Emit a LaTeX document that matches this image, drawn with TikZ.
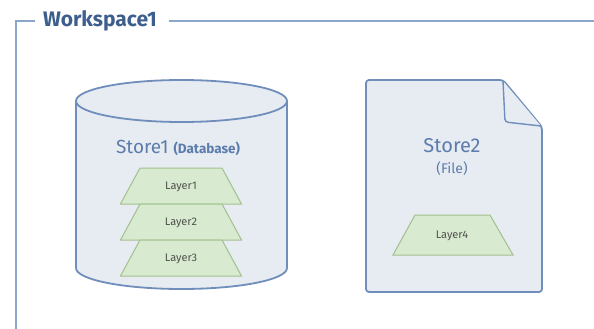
\documentclass[tikz,border=0pt]{standalone}
\usepackage{fontspec}
\setmainfont{Fira Sans}
\definecolor{framecol}{RGB}{140,165,202}
\definecolor{titlecol}{RGB}{62,95,142}
\definecolor{storeline}{RGB}{112,142,188}
\definecolor{storefill}{RGB}{230,236,242}
\definecolor{storetext}{RGB}{92,124,172}
\definecolor{layerfill}{RGB}{216,234,208}
\definecolor{layerline}{RGB}{162,192,142}
\definecolor{layertext}{RGB}{80,82,78}
\tikzset{
  frame/.style={draw=framecol, line width=2.2pt},
  store/.style={draw=storeline, fill=storefill, line width=1.8pt, line join=round},
  layer/.style={draw=layerline, fill=layerfill, line width=1pt},
  layerlabel/.style={font=\fontsize{11}{13}\selectfont, text=layertext},
}
% trapezium: #1 centre x, #2 top y, #3 name, #4 text
\newcommand{\layertrap}[4]{%
  \draw[layer] (#1-41,#2) -- (#1+41,#2) -- (#1+60.5,#2-36) -- (#1-60.5,#2-36) -- cycle;
  \node[layerlabel] (#3) at (#1,#2-19) {#4};
}
\begin{document}
\begin{tikzpicture}[x=1pt,y=1pt]
  \useasboundingbox (0,0) rectangle (594,-329);

  % workspace frame
  \node[font=\fontsize{21}{23}\selectfont\bfseries, text=titlecol, anchor=west, inner sep=0pt] (ws) at (43,-21) {Workspace1};
  \draw[frame] ([xshift=-8pt]ws.west) -- (16,-21) -- (16,-329);
  \draw[frame] ([xshift=12pt]ws.east) -- (594,-21);

  % Store1: database cylinder
  \path[store] (76,-101) -- (76,-268) arc[start angle=180, end angle=360, x radius=105.5, y radius=21] -- (287,-101);
  \draw[store] (181.5,-101) ellipse [x radius=105.5, y radius=21];
  \node[font=\fontsize{19}{21}\selectfont, text=storetext] (s1) at (178,-148)
    {Store1 {\fontsize{13.5}{15}\selectfont\bfseries (Database)}};
  \layertrap{181}{-168}{l1}{Layer1}
  \layertrap{181}{-204}{l2}{Layer2}
  \layertrap{181}{-240}{l3}{Layer3}

  % Store2: file
  \path[store, rounded corners=3pt] (366,-80) -- (503,-80) -- (542,-127) -- (542,-292) -- (366,-292) -- cycle;
  \draw[store, line width=1.4pt, rounded corners=3pt] (503,-81) -- (505,-122) -- (541,-126);
  \node[font=\fontsize{20}{22}\selectfont, text=storetext] (s2) at (452,-146) {Store2};
  \node[font=\fontsize{14}{16}\selectfont, text=storetext] (s2t) at (452,-169) {(File)};
  \draw[layer] (415,-215) -- (490,-215) -- (513,-255) -- (393,-255) -- cycle;
  \node[layerlabel] (l4) at (452,-236) {Layer4};
\end{tikzpicture}
\end{document}
